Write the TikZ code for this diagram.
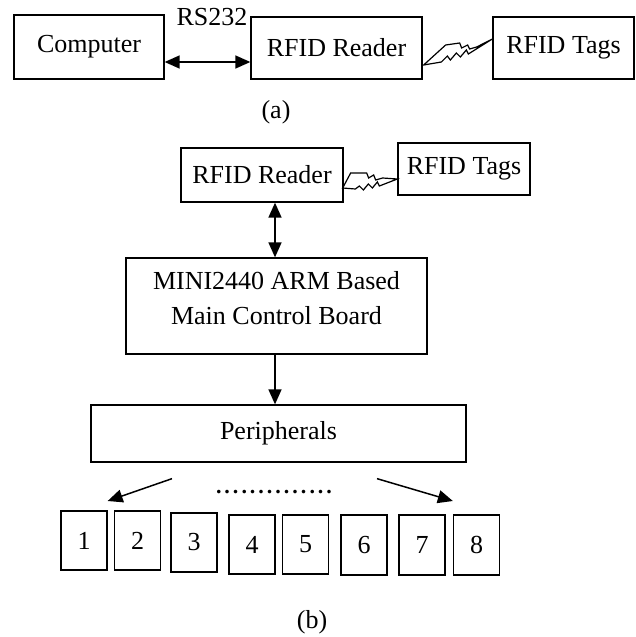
\documentclass[tikz,border=0pt]{standalone}
\usepackage{fontspec}
\setmainfont{Liberation Serif}
\usetikzlibrary{arrows.meta,calc}
\begin{document}
\begin{tikzpicture}[x=1pt,y=-1pt,
  box/.style={draw,line width=1.3pt,inner sep=0pt,font=\fontsize{26}{31}\selectfont},
  num/.style={box,minimum width=46pt,minimum height=59pt},
  lbl/.style={inner sep=0pt,font=\fontsize{26}{31}\selectfont},
  conn/.style={line width=1.5pt,-{Triangle[length=15pt,width=13pt]}},
  dconn/.style={line width=1.5pt,{Triangle[length=15pt,width=13pt]}-{Triangle[length=15pt,width=13pt]}},
  bolt/.style={line width=1.2pt,line join=miter}]
\useasboundingbox (0,0) rectangle (635,637);
% (a)
\node[box,minimum width=150pt,minimum height=64pt] (comp) at (89,47) {Computer};
\node[box,minimum width=171pt,minimum height=62pt] (readA) at (336.5,48) {RFID Reader};
\node[box,minimum width=141pt,minimum height=62pt] (tagsA) at (563.5,48) {RFID Tags};
\node[lbl] (rs) at (212,17) {RS232};
\draw[dconn] (comp.east |- 0,62) coordinate (c1) -- (readA.west |- 0,62) coordinate (c2);
\coordinate (la) at ($(readA.east)+(1,17)$);
\coordinate (lb) at ($(tagsA.west)+(0,-9)$);
\draw[bolt] (la) -- ++(22,-20) -- ++(14,-2) -- ++(2,5) -- ++(6,-3) -- ++(2,4) -- ++(7,-2) -- (lb)
  -- ++(-24,15) -- ++(-2,-4) -- ++(-6,7) -- ++(-4,-4) -- ++(-6,7) -- ++(-3,-4) -- ++(-6,6) -- cycle;
\node[lbl] (capa) at (276,112) {(a)};
% (b)
\node[box,minimum width=162pt,minimum height=54pt] (readB) at (262,175) {RFID Reader};
\node[box,minimum width=132pt,minimum height=52pt] (tagsB) at (464,169) {RFID Tags};
\coordinate (lc) at ($(readB.east)+(-1,13)$);
\coordinate (ld) at ($(tagsB.west)+(0,10)$);
\draw[bolt] (lc) -- ++(8,-15) -- ++(16,0) -- ++(2,5) -- ++(5,-3) -- ++(2,5) -- ++(7,-2) -- (ld)
  -- ++(-18,7) -- ++(-2,-4) -- ++(-5,6) -- ++(-4,-4) -- ++(-5,6) -- ++(-4,-4) -- ++(-4,3) -- cycle;
\node[box,minimum width=301pt,minimum height=96pt] (mini) at (276.5,306) {};
\node[lbl,align=center] (minitext) at (276.5,298) {MINI2440 ARM Based\\[4pt]Main Control Board};
\draw[dconn] (readB.south -| 275,0) -- (mini.north -| 275,0);
\node[box,minimum width=375pt,minimum height=57pt] (peri) at (278.5,433.5) {Peripherals};
\draw[conn] (mini.south -| 275,0) -- (peri.north -| 275,0);
\node[num] (n1) at (84,540.5) {1};
\node[num] (n2) at (137.5,540.5) {2};
\node[num] (n3) at (194,542.5) {3};
\node[num] (n4) at (252,544.5) {4};
\node[num] (n5) at (305.5,544.5) {5};
\node[num,minimum height=60pt] (n6) at (364,545) {6};
\node[num,minimum height=60pt] (n7) at (422,545) {7};
\node[num,minimum height=60pt] (n8) at (476.5,545) {8};
\coordinate (al) at ($(peri.south)+(-106.5,16)$);
\coordinate (ar) at ($(peri.south)+(98.5,16)$);
\draw[conn] (al) -- (n1.north east |- 0,501) coordinate (t1);
\draw[conn] (ar) -- (n8.north west |- 0,501) coordinate (t8);
\node[lbl,anchor=base,font=\bfseries\fontsize{22}{26}\selectfont] (dots) at (274,493)
  {.\kern3pt.\kern3pt.\kern3pt.\kern3pt.\kern3pt.\kern3pt.\kern3pt.\kern3pt.\kern3pt.\kern3pt.\kern3pt.\kern3pt.\kern3pt.};
\node[lbl] (capb) at (312,622) {(b)};
\end{tikzpicture}
\end{document}
